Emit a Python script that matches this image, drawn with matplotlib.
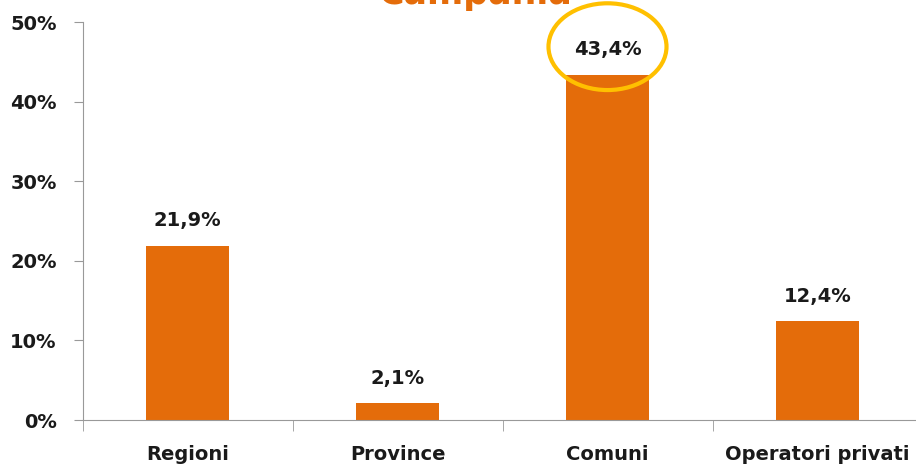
import matplotlib.pyplot as plt
from matplotlib.patches import Ellipse
from matplotlib.ticker import FuncFormatter

categories = ['Regioni', 'Province', 'Comuni', 'Operatori privati']
values = [21.9, 2.1, 43.4, 12.4]
value_labels = ['21,9%', '2,1%', '43,4%', '12,4%']

plt.rcParams['font.family'] = ['DejaVu Sans']
TXT = '#1a1a1a'
ORANGE = '#E46C0A'

fig = plt.figure(figsize=(9.16, 4.66), dpi=100)
ax = fig.add_axes([82.5 / 916, 1 - 420 / 466, 840 / 916, 398 / 466])

x = range(len(categories))
ax.bar(x, values, width=0.395, color=ORANGE)

for i, v in enumerate(values):
    ax.annotate(value_labels[i], (i, v), xytext=(0, 14), textcoords='offset points',
                ha='center', va='baseline', fontsize=14, fontweight='bold', color=TXT)

# yellow circle round the Comuni value
ax.add_patch(Ellipse((2, 46.9), 0.562, 10.9, fill=False, edgecolor='#FFC000',
                     linewidth=3, clip_on=False))

ax.set_xlim(-0.5, 3.5)
ax.set_ylim(0, 50)
ax.set_yticks([0, 10, 20, 30, 40, 50])
ax.yaxis.set_major_formatter(FuncFormatter(lambda v, p: f'{int(v)}%'))
ax.set_xticks(list(x))
ax.set_xticklabels(categories)
ax.set_xticks([-0.5, 0.5, 1.5, 2.5, 3.5], minor=True)
ax.tick_params(axis='x', which='major', length=0, pad=18, labelsize=14)
ax.tick_params(axis='x', which='minor', length=8, color='#999999')
ax.tick_params(axis='y', length=6.5, color='#999999', labelsize=14, pad=12)
for lab in ax.get_xticklabels() + ax.get_yticklabels():
    lab.set_fontweight('bold')
    lab.set_color(TXT)

ax.spines['top'].set_visible(False)
ax.spines['right'].set_visible(False)
ax.spines['left'].set_color('#999999')
ax.spines['bottom'].set_color('#999999')

# title sits mostly above the top edge, as in the original
fig.text(475 / 916, 1 - 4 / 466, 'Campania', ha='center', va='baseline',
         fontsize=25, fontweight='bold', color=ORANGE)

fig.savefig('out.png', dpi=100)
